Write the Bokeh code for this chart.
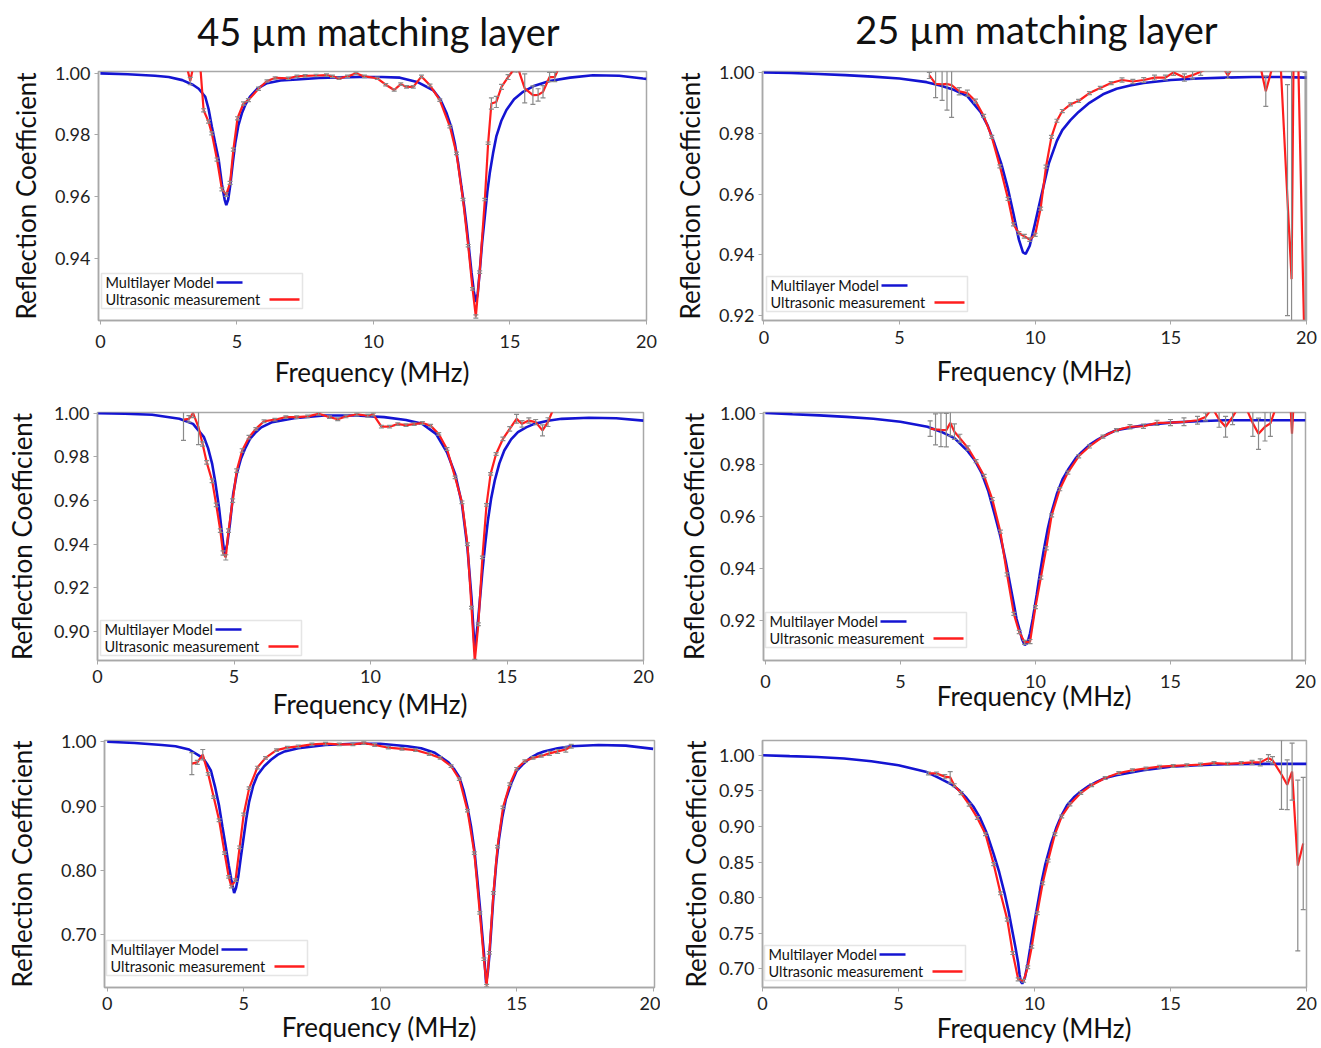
from bokeh.plotting import figure
from bokeh.models import (Range1d, FixedTicker, NumeralTickFormatter, BoxAnnotation,
                          Label, ColumnDataSource)
from bokeh.core.properties import value
from bokeh.layouts import column, row
from bokeh.embed import file_html
from bokeh.resources import INLINE

# ---------------- data ----------------
col_titles = ["45 µm matching layer", "25 µm matching layer"]
x_label = "Frequency (MHz)"
y_label = "Reflection Coefficient"
legend_labels = ["Multilayer Model", "Ultrasonic measurement"]
x_ticks = [0, 5, 10, 15, 20]

# Panel 1 : 45 um, top
p1_model_f = [0, 1, 2, 2.5, 3.0, 3.4, 3.6, 3.84, 3.96, 4.08, 4.2, 4.33, 4.45, 4.55, 4.61, 4.68,
              4.75, 4.85, 4.94, 5.05, 5.18, 5.32, 5.48, 5.75, 6.1, 6.6, 7.2, 8.0, 8.7, 9.5,
              10.3, 10.97, 11.6, 12.19, 12.45, 12.68, 12.85, 12.98, 13.1, 13.22, 13.32, 13.41,
              13.5, 13.59, 13.68, 13.75, 13.82, 13.89, 13.98, 14.08, 14.17, 14.26, 14.38, 14.5,
              14.68, 14.87, 15.15, 15.48, 15.9, 16.45, 17.2, 18.04, 19.0, 19.87, 20]
p1_model_r = [1.000, 0.9997, 0.9992, 0.9988, 0.9978, 0.9962, 0.9950, 0.9924, 0.9885, 0.9827,
              0.9775, 0.9720, 0.9640, 0.9590, 0.9572, 0.9590, 0.9633, 0.9710, 0.9774, 0.9830,
              0.9870, 0.9900, 0.9924, 0.9950, 0.9968, 0.9977, 0.9980, 0.9985, 0.9987, 0.9988,
              0.9988, 0.9986, 0.9972, 0.9945, 0.9915, 0.9870, 0.9825, 0.9773, 0.9710, 0.9633,
              0.9570, 0.9504, 0.9430, 0.9354, 0.9290, 0.9257, 0.9285, 0.9354, 0.9450, 0.9536,
              0.9615, 0.9676, 0.9740, 0.9795, 0.9845, 0.9881, 0.9916, 0.9940, 0.9960, 0.9975,
              0.9986, 0.9994, 0.9992, 0.9983, 0.9982]
p1_meas_f = [3.17, 3.29, 3.42, 3.66, 3.78, 3.96, 4.08, 4.27, 4.45, 4.61,
             4.75, 4.87, 5.02, 5.24, 5.42, 5.79, 6.1, 6.4, 6.88, 7.2,
             7.5, 7.9, 8.28, 8.5, 8.74, 9.05, 9.36, 9.67, 10.14, 10.45,
             10.76, 11.0, 11.21, 11.46, 11.76, 12.07, 12.43, 12.8, 13.04, 13.28,
             13.47, 13.63, 13.75, 13.89, 14.08, 14.2, 14.32, 14.5, 14.69, 14.93,
             15.17, 15.3, 15.54, 15.84, 16.03, 16.21, 16.45, 16.64, 16.8]
p1_meas_r = [1.002, 0.9975, 1.003, 1.002, 0.9880, 0.9843, 0.9805, 0.9720, 0.9623, 0.9606,
             0.9644, 0.9752, 0.9854, 0.9902, 0.9913, 0.9950, 0.9975, 0.9985, 0.9984, 0.9990,
             0.9992, 0.9993, 0.9994, 0.9990, 0.9984, 0.9990, 1.0000, 0.9990, 0.9984, 0.9963,
             0.9946, 0.9965, 0.9956, 0.9956, 0.9990, 0.9961, 0.9913, 0.9827, 0.9740, 0.9590,
             0.9440, 0.9300, 0.9210, 0.9354, 0.9590, 0.9773, 0.9902, 0.9907, 0.9956, 0.9988,
             1.0015, 1.0015, 0.9951, 0.9929, 0.9930, 0.9940, 0.9988, 0.9988, 1.0020]
p1_meas_err = [0.0005, 0.0012, 0.0005, 0.0005, 0.0005, 0.0005, 0.0005, 0.0005, 0.0005, 0.0006,
               0.0005, 0.0005, 0.0005, 0.0005, 0.0005, 0.0005, 0.0004, 0.0004, 0.0004, 0.0004,
               0.0004, 0.0004, 0.0004, 0.0004, 0.0004, 0.0004, 0.0004, 0.0004, 0.0004, 0.0004,
               0.0004, 0.0004, 0.0004, 0.0004, 0.0004, 0.0004, 0.0004, 0.0004, 0.0004, 0.0004,
               0.0004, 0.0004, 0.0005, 0.0004, 0.0004, 0.0004, 0.0018, 0.0018, 0.0008, 0.0008,
               0.0010, 0.0010, 0.0047, 0.0030, 0.0020, 0.0020, 0.0015, 0.0015, 0.0010]

# Panel 2 : 25 um, top
p2_model_f = [0, 1, 2, 3, 4, 5, 6, 6.5, 7, 7.5, 8, 8.25, 8.5, 8.75, 9.0, 9.2, 9.4, 9.55, 9.65,
              9.8, 10.0, 10.2, 10.5, 10.8, 11.0, 11.3, 11.6, 12.0, 12.5, 13, 13.5, 14, 15, 16,
              17, 18, 19, 20]
p2_model_r = [1.000, 0.9998, 0.9995, 0.9991, 0.9986, 0.9980, 0.9968, 0.9957, 0.9943, 0.9922,
              0.9868, 0.9825, 0.9766, 0.9700, 0.9616, 0.9535, 0.9450, 0.9408, 0.9403, 0.9430,
              0.9505, 0.9584, 0.9700, 0.9775, 0.9810, 0.9843, 0.9870, 0.9900, 0.9928, 0.9946,
              0.9957, 0.9965, 0.9975, 0.9980, 0.9983, 0.9985, 0.9985, 0.9983]
p2_meas_f = [6.1, 6.33, 6.57, 6.75, 6.92, 7.2, 7.5, 7.8, 8.1, 8.4,
             8.7, 9.0, 9.2, 9.4, 9.6, 9.8, 10.0, 10.2, 10.4, 10.6,
             10.8, 11.0, 11.3, 11.6, 12.0, 12.4, 12.8, 13.2, 13.6, 14.0,
             14.4, 14.8, 15.1, 15.5, 15.8, 16.1, 16.5, 16.9, 17.1, 17.3,
             18.3, 18.5, 18.75, 19.05, 19.3, 19.45, 19.52, 19.7, 19.95]
p2_meas_r = [0.9990, 0.9962, 0.9961, 0.9962, 0.9958, 0.9938, 0.9932, 0.9906, 0.9857, 0.9788,
             0.9691, 0.9584, 0.9500, 0.9471, 0.9461, 0.9450, 0.9466, 0.9552, 0.9690, 0.9788,
             0.9841, 0.9873, 0.9895, 0.9906, 0.9932, 0.9949, 0.9965, 0.9975, 0.9970, 0.9975,
             0.9983, 0.9983, 1.0000, 0.9983, 0.9991, 1.0002, 1.0020, 1.0020, 0.9990, 1.0020,
             1.0020, 0.9938, 1.0020, 1.0020, 0.9580, 0.9320, 1.0020, 1.0020, 0.9000]
p2_meas_err = [0.0010, 0.0045, 0.0053, 0.0086, 0.0106, 0.0012, 0.0010, 0.0006, 0.0005, 0.0005,
               0.0005, 0.0005, 0.0005, 0.0005, 0.0006, 0.0006, 0.0005, 0.0005, 0.0005, 0.0005,
               0.0005, 0.0005, 0.0005, 0.0005, 0.0005, 0.0005, 0.0005, 0.0007, 0.0007, 0.0008,
               0.0008, 0.0008, 0.0010, 0.0012, 0.0012, 0.0012, 0.0010, 0.0010, 0.0010, 0.0010,
               0.0010, 0.0050, 0.0010, 0.0010, 0.0380, 0.0700, 0.0010, 0.0010, 0.1000]

# Panel 3 : 45 um, middle
p3_model_f = [0, 1, 2, 3, 3.5, 3.9, 4.05, 4.2, 4.32, 4.45, 4.55, 4.65, 4.75, 4.85, 4.97, 5.1,
              5.25, 5.4, 5.6, 5.8, 6.0, 6.4, 7.2, 8.3, 9.5, 10.5, 11.3, 11.9, 12.4, 12.8, 13.1,
              13.35, 13.55, 13.7, 13.82, 13.95, 14.1, 14.2, 14.3, 14.42, 14.55, 14.72, 14.9,
              15.15, 15.4, 15.7, 16, 16.5, 17, 18, 19, 20]
p3_model_r = [1.000, 0.9997, 0.9993, 0.9974, 0.9951, 0.9890, 0.9840, 0.9768, 0.9680, 0.9569,
              0.9460, 0.9355, 0.9400, 0.9492, 0.9630, 0.9722, 0.9790, 0.9836, 0.9885, 0.9913,
              0.9935, 0.9959, 0.9977, 0.9989, 0.9989, 0.9982, 0.9969, 0.9951, 0.9905, 0.9821,
              0.9722, 0.9584, 0.9385, 0.9156, 0.8910, 0.9064, 0.9278, 0.9400, 0.9508, 0.9610,
              0.9691, 0.9770, 0.9829, 0.9880, 0.9913, 0.9935, 0.9951, 0.9965, 0.9974, 0.9979,
              0.9977, 0.9966]
p3_meas_f = [3.15, 3.35, 3.5, 3.7, 3.85, 4.0, 4.2, 4.35, 4.5, 4.6,
             4.7, 4.8, 4.95, 5.1, 5.3, 5.55, 5.8, 6.1, 6.5, 6.9,
             7.3, 7.7, 8.1, 8.5, 8.8, 9.1, 9.5, 9.9, 10.1, 10.4,
             10.7, 11.0, 11.3, 11.6, 11.9, 12.2, 12.5, 12.8, 13.1, 13.35,
             13.55, 13.7, 13.82, 13.95, 14.1, 14.25, 14.4, 14.6, 14.85, 15.1,
             15.35, 15.55, 15.8, 16.05, 16.3, 16.5, 16.7]
p3_meas_r = [0.9970, 0.9974, 1.0000, 0.9936, 0.9859, 0.9775, 0.9690, 0.9580, 0.9462, 0.9360,
             0.9340, 0.9462, 0.9600, 0.9737, 0.9829, 0.9890, 0.9928, 0.9963, 0.9970, 0.9982,
             0.9982, 0.9985, 0.9997, 0.9982, 0.9972, 0.9985, 0.9994, 0.9988, 0.9994, 0.9938,
             0.9938, 0.9950, 0.9945, 0.9950, 0.9955, 0.9943, 0.9905, 0.9836, 0.9706, 0.9592,
             0.9400, 0.9110, 0.8865, 0.9034, 0.9340, 0.9580, 0.9722, 0.9813, 0.9882, 0.9928,
             0.9974, 0.9951, 0.9966, 0.9959, 0.9921, 0.9959, 1.0020]
p3_meas_err = [0.0095, 0.0015, 0.0020, 0.0080, 0.0010, 0.0008, 0.0008, 0.0008, 0.0008, 0.0010,
               0.0012, 0.0008, 0.0008, 0.0008, 0.0008, 0.0008, 0.0006, 0.0006, 0.0006, 0.0006,
               0.0006, 0.0006, 0.0006, 0.0006, 0.0006, 0.0006, 0.0006, 0.0006, 0.0006, 0.0006,
               0.0006, 0.0006, 0.0006, 0.0006, 0.0006, 0.0006, 0.0006, 0.0006, 0.0006, 0.0006,
               0.0006, 0.0006, 0.0008, 0.0006, 0.0006, 0.0006, 0.0006, 0.0006, 0.0008, 0.0010,
               0.0020, 0.0015, 0.0012, 0.0012, 0.0025, 0.0020, 0.0010]

# Panel 4 : 25 um, middle
p4_model_f = [0, 1, 2, 3, 4, 5, 6, 6.5, 7, 7.5, 7.75, 8, 8.25, 8.5, 8.7, 8.9, 9.05, 9.2, 9.3,
              9.45, 9.5, 9.6, 9.7, 9.8, 9.9, 10.05, 10.15, 10.3, 10.45, 10.6, 10.8, 11, 11.2,
              11.5, 11.7, 12, 12.3, 12.7, 13, 14, 15, 16, 17, 18, 19, 20]
p4_model_r = [1.000, 0.9995, 0.9991, 0.9985, 0.9978, 0.9966, 0.9947, 0.9928, 0.9903, 0.9852,
              0.9818, 0.9770, 0.9700, 0.9605, 0.9525, 0.9428, 0.9345, 0.9263, 0.9205, 0.9150,
              0.9128, 0.9105, 0.9112, 0.9150, 0.9205, 0.9301, 0.9370, 0.9466, 0.9550, 0.9618,
              0.9690, 0.9744, 0.9780, 0.9827, 0.9848, 0.9877, 0.9897, 0.9920, 0.9934, 0.9953,
              0.9963, 0.9968, 0.9972, 0.9972, 0.9972, 0.9972]
p4_meas_f = [6.1, 6.3, 6.5, 6.7, 6.85, 7.0, 7.2, 7.5, 7.8, 8.1,
             8.4, 8.7, 8.95, 9.2, 9.4, 9.6, 9.8, 10.0, 10.2, 10.4,
             10.6, 10.9, 11.2, 11.6, 12.0, 12.5, 13.0, 13.5, 14.0, 14.5,
             15.0, 15.5, 16.0, 16.3, 16.55, 16.8, 17.04, 17.3, 17.5, 17.8,
             18.05, 18.26, 18.5, 18.7, 18.9, 19.45, 19.5, 19.55]
p4_meas_r = [0.9940, 0.9937, 0.9935, 0.9934, 0.9962, 0.9928, 0.9903, 0.9865, 0.9814, 0.9757,
             0.9668, 0.9542, 0.9377, 0.9225, 0.9155, 0.9115, 0.9118, 0.9251, 0.9365, 0.9478,
             0.9605, 0.9706, 0.9770, 0.9833, 0.9871, 0.9909, 0.9934, 0.9947, 0.9949, 0.9962,
             0.9963, 0.9966, 0.9972, 0.9985, 1.0020, 0.9975, 0.9947, 0.9985, 1.0020, 1.0020,
             0.9960, 0.9920, 0.9947, 0.9960, 1.0020, 1.0020, 0.9920, 1.0020]
p4_meas_err = [0.0030, 0.0060, 0.0065, 0.0065, 0.0050, 0.0030, 0.0015, 0.0008, 0.0006, 0.0006,
               0.0006, 0.0006, 0.0006, 0.0006, 0.0006, 0.0008, 0.0008, 0.0006, 0.0006, 0.0006,
               0.0006, 0.0006, 0.0006, 0.0006, 0.0006, 0.0006, 0.0006, 0.0008, 0.0008, 0.0010,
               0.0012, 0.0015, 0.0015, 0.0015, 0.0010, 0.0030, 0.0040, 0.0030, 0.0010, 0.0010,
               0.0050, 0.0060, 0.0055, 0.0050, 0.0010, 0.0010, 0.0900, 0.0010]

# Panel 5 : 45 um, bottom
p5_model_f = [0, 1, 2, 2.5, 3, 3.5, 3.65, 3.8, 3.95, 4.1, 4.22, 4.35, 4.45, 4.55, 4.65, 4.72,
              4.8, 4.9, 5.0, 5.1, 5.2, 5.35, 5.5, 5.75, 6.0, 6.25, 6.5, 7, 8, 9, 10, 11, 11.5,
              12, 12.5, 12.7, 12.9, 13.05, 13.2, 13.33, 13.45, 13.55, 13.65, 13.72, 13.8, 13.88,
              13.94, 14.0, 14.07, 14.15, 14.25, 14.35, 14.47, 14.6, 14.8, 15, 15.25, 15.5,
              15.75, 16, 16.5, 17, 18, 19, 20]
p5_model_r = [1.000, 0.998, 0.995, 0.993, 0.988, 0.975, 0.966, 0.955, 0.930, 0.900,
              0.868, 0.835, 0.808, 0.785, 0.765, 0.773, 0.790, 0.822, 0.852, 0.882,
              0.907, 0.932, 0.948, 0.962, 0.972, 0.980, 0.985, 0.990, 0.995, 0.997,
              0.997, 0.993, 0.990, 0.983, 0.968, 0.958, 0.945, 0.925, 0.898, 0.868,
              0.832, 0.790, 0.745, 0.710, 0.672, 0.625, 0.640, 0.667, 0.710, 0.760,
              0.810, 0.848, 0.882, 0.910, 0.935, 0.955, 0.966, 0.975, 0.981, 0.985,
              0.990, 0.993, 0.995, 0.994, 0.989]
p5_meas_f = [3.1, 3.3, 3.5, 3.7, 3.9, 4.1, 4.3, 4.45, 4.55, 4.7,
             4.85, 5.0, 5.2, 5.5, 5.8, 6.2, 6.6, 7.0, 7.5, 8.0,
             8.5, 9.0, 9.4, 9.8, 10.3, 10.8, 11.3, 11.8, 12.2, 12.6,
             12.9, 13.2, 13.45, 13.65, 13.8, 13.9, 14.0, 14.15, 14.3, 14.5,
             14.75, 15.0, 15.3, 15.6, 15.9, 16.2, 16.5, 16.8, 17.0]
p5_meas_r = [0.966, 0.968, 0.980, 0.950, 0.914, 0.878, 0.827, 0.790, 0.775, 0.785,
             0.836, 0.887, 0.928, 0.960, 0.975, 0.987, 0.991, 0.993, 0.996, 0.997,
             0.996, 0.996, 0.998, 0.995, 0.991, 0.989, 0.987, 0.981, 0.975, 0.962,
             0.942, 0.893, 0.827, 0.734, 0.662, 0.621, 0.672, 0.765, 0.837, 0.898,
             0.934, 0.958, 0.970, 0.975, 0.978, 0.982, 0.985, 0.988, 0.993]
p5_meas_err = [0.017, 0.003, 0.008, 0.002, 0.002, 0.002, 0.002, 0.002, 0.002, 0.002,
               0.002, 0.002, 0.002, 0.002, 0.002, 0.002, 0.002, 0.002, 0.002, 0.002,
               0.002, 0.002, 0.002, 0.002, 0.002, 0.002, 0.002, 0.002, 0.002, 0.002,
               0.002, 0.002, 0.002, 0.002, 0.002, 0.002, 0.002, 0.002, 0.002, 0.002,
               0.002, 0.002, 0.002, 0.002, 0.002, 0.003, 0.003, 0.004, 0.003]

# Panel 6 : 25 um, bottom
p6_model_f = [0, 1, 2, 3, 4, 5, 6, 6.5, 7, 7.25, 7.5, 7.75, 8, 8.25, 8.5, 8.7, 8.9, 9.05, 9.2,
              9.3, 9.4, 9.45, 9.5, 9.55, 9.65, 9.75, 9.85, 9.95, 10.1, 10.25, 10.4, 10.6, 10.8,
              11.0, 11.2, 11.45, 11.7, 12.0, 12.3, 12.6, 13, 14, 15, 16, 17, 18, 19, 20]
p6_model_r = [1.000, 0.9988, 0.9977, 0.9955, 0.9917, 0.986, 0.977, 0.968, 0.958, 0.950,
              0.940, 0.928, 0.912, 0.890, 0.861, 0.836, 0.806, 0.780, 0.750, 0.730,
              0.708, 0.692, 0.682, 0.679, 0.688, 0.707, 0.731, 0.755, 0.787, 0.820,
              0.847, 0.875, 0.898, 0.916, 0.930, 0.941, 0.949, 0.957, 0.963, 0.968,
              0.972, 0.979, 0.984, 0.986, 0.9875, 0.988, 0.988, 0.988]
p6_meas_f = [6.1, 6.4, 6.7, 6.9, 7.05, 7.3, 7.6, 7.9, 8.2, 8.5,
             8.75, 9.0, 9.2, 9.4, 9.6, 9.75, 9.9, 10.1, 10.3, 10.5,
             10.75, 11.0, 11.3, 11.7, 12.1, 12.6, 13.1, 13.6, 14.1, 14.6,
             15.1, 15.6, 16.1, 16.6, 17.1, 17.6, 18.0, 18.3, 18.6, 18.75,
             19.08, 19.29, 19.47, 19.68, 19.88]
p6_meas_r = [0.9745, 0.9745, 0.9700, 0.9690, 0.9580, 0.9468, 0.9306, 0.912, 0.889, 0.847,
             0.806, 0.769, 0.722, 0.685, 0.683, 0.702, 0.731, 0.778, 0.820, 0.852,
             0.889, 0.914, 0.931, 0.947, 0.958, 0.968, 0.975, 0.979, 0.9815, 0.984,
             0.985, 0.986, 0.987, 0.989, 0.988, 0.989, 0.990, 0.990, 0.996, 0.993,
             0.973, 0.9585, 0.977, 0.845, 0.876]
p6_meas_err = [0.002, 0.002, 0.003, 0.008, 0.002, 0.002, 0.002, 0.002, 0.002, 0.002,
               0.002, 0.002, 0.002, 0.002, 0.002, 0.002, 0.002, 0.002, 0.002, 0.002,
               0.002, 0.002, 0.002, 0.002, 0.002, 0.002, 0.002, 0.002, 0.002, 0.002,
               0.002, 0.002, 0.002, 0.002, 0.002, 0.002, 0.003, 0.005, 0.005, 0.005,
               0.049, 0.035, 0.040, 0.120, 0.093]

p1_y_ticks = [0.94, 0.96, 0.98, 1.00]
p2_y_ticks = [0.92, 0.94, 0.96, 0.98, 1.00]
p3_y_ticks = [0.90, 0.92, 0.94, 0.96, 0.98, 1.00]
p4_y_ticks = [0.92, 0.94, 0.96, 0.98, 1.00]
p5_y_ticks = [0.70, 0.80, 0.90, 1.00]
p6_y_ticks = [0.70, 0.75, 0.80, 0.85, 0.90, 0.95, 1.00]

# ---------------- styling / layout ----------------
FONT = "Lato"
BLUE = "#1414d2"
RED = "#ff1e1e"
GRAY = "#a8a8a8"
BAR = "#8a8a8a"
TITLE_H = 60
title_pos_x = [378, 1036]     # pixel centres of the two column titles
title_pos_y = [30, 28]

panels = [
    dict(f=p1_model_f, r=p1_model_r, mf=p1_meas_f, mr=p1_meas_r, me=p1_meas_err, yt=p1_y_ticks,
         w=660, h=330, l=98, ri=14, t=11, b=68, xr=(-0.07, 20.0), yr=(0.9197, 1.0006),
         yls=10, xts=10, xls=5, leg=(3, 12)),
    dict(f=p2_model_f, r=p2_model_r, mf=p2_meas_f, mr=p2_meas_r, me=p2_meas_err, yt=p2_y_ticks,
         w=661, h=330, l=102, ri=15, t=11, b=70, xr=(-0.05, 20.0), yr=(0.9184, 1.0003),
         yls=10, xts=6, xls=8, leg=(4, 9)),
    dict(f=p3_model_f, r=p3_model_r, mf=p3_meas_f, mr=p3_meas_r, me=p3_meas_err, yt=p3_y_ticks,
         w=660, h=332, l=97, ri=17, t=21, b=62, xr=(0.0, 20.0), yr=(0.8868, 1.0003),
         yls=13, xts=5, xls=2, leg=(3, 5)),
    dict(f=p4_model_f, r=p4_model_r, mf=p4_meas_f, mr=p4_meas_r, me=p4_meas_err, yt=p4_y_ticks,
         w=661, h=332, l=103, ri=16, t=22, b=58, xr=(-0.07, 20.0), yr=(0.9045, 1.0002),
         yls=7, xts=10, xls=-11, leg=(2, 13)),
    dict(f=p5_model_f, r=p5_model_r, mf=p5_meas_f, mr=p5_meas_r, me=p5_meas_err, yt=p5_y_ticks,
         w=660, h=326, l=104, ri=6, t=18, b=60, xr=(-0.1, 20.05), yr=(0.618, 1.002),
         yls=20, xts=5, xls=-2, leg=(2, 12)),
    dict(f=p6_model_f, r=p6_model_r, mf=p6_meas_f, mr=p6_meas_r, me=p6_meas_err, yt=p6_y_ticks,
         w=661, h=326, l=102, ri=15, t=15, b=61, xr=(0.0, 20.0), yr=(0.6736, 1.0208),
         yls=4, xts=5, xls=-1, leg=(2, 7)),
]


def make_panel(c):
    p = figure(width=c["w"], height=c["h"], output_backend="svg", toolbar_location=None,
               x_range=Range1d(*c["xr"]), y_range=Range1d(*c["yr"]),
               min_border_left=c["l"], min_border_right=c["ri"],
               min_border_top=c["t"], min_border_bottom=c["b"],
               background_fill_color="white", border_fill_color="white")
    p.grid.visible = False
    p.outline_line_color = GRAY
    p.outline_line_width = 1.5

    p.xaxis.ticker = FixedTicker(ticks=x_ticks)
    p.yaxis.ticker = FixedTicker(ticks=c["yt"])
    p.yaxis.formatter = NumeralTickFormatter(format="0.00")
    p.xaxis.axis_label = x_label
    p.yaxis.axis_label = y_label
    for ax in (p.xaxis[0], p.yaxis[0]):
        ax.axis_line_color = GRAY
        ax.axis_line_width = 1.5
        ax.major_tick_line_color = GRAY
        ax.major_tick_out = 4
        ax.major_tick_in = 0
        ax.minor_tick_line_color = None
        ax.major_label_text_font = FONT
        ax.major_label_text_font_size = "18px"
        ax.major_label_text_color = "#222222"
        ax.axis_label_text_font = FONT
        ax.axis_label_text_font_size = "26px"
        ax.axis_label_text_font_style = "normal"
        ax.axis_label_text_color = "#111111"
    p.yaxis[0].major_label_standoff = 4
    p.yaxis[0].axis_label_standoff = c["yls"]
    p.xaxis[0].major_label_standoff = c["xts"]
    p.xaxis[0].axis_label_standoff = c["xls"]

    # model curve
    p.line(c["f"], c["r"], line_color=BLUE, line_width=2.6)
    # measurement
    p.line(c["mf"], c["mr"], line_color=RED, line_width=2.2)
    lo = [v - e for v, e in zip(c["mr"], c["me"])]
    hi = [v + e for v, e in zip(c["mr"], c["me"])]
    src = ColumnDataSource(dict(f=c["mf"], lo=lo, hi=hi))
    p.segment(x0="f", y0="lo", x1="f", y1="hi", source=src, line_color=BAR, line_width=1.2)
    p.scatter(x="f", y="lo", source=src, marker="dash", size=5, line_color=BAR, line_width=1.2)
    p.scatter(x="f", y="hi", source=src, marker="dash", size=5, line_color=BAR, line_width=1.2)

    # hand-made legend (text first, line sample after it)
    lx, lb = c["leg"]
    bw, bh = 201, 35
    p.add_layout(BoxAnnotation(left=lx, right=lx + bw, bottom=lb, top=lb + bh,
                               left_units="screen", right_units="screen",
                               bottom_units="screen", top_units="screen",
                               fill_color="white", fill_alpha=1.0,
                               line_color=GRAY, line_width=1.5))
    rows_y = [lb + bh - 9, lb + 9]
    sample_x = [(lx + 115, lx + 141), (lx + 168, lx + 198)]
    colors = [BLUE, RED]
    for k in range(2):
        p.add_layout(Label(x=lx + 4, y=rows_y[k], x_units="screen", y_units="screen",
                           text=legend_labels[k], text_font=FONT, text_font_size="14.5px",
                           text_baseline="middle", text_align="left", text_color="#111111"))
        x0, x1 = sample_x[k]
        p.add_layout(BoxAnnotation(left=x0, right=x1, bottom=rows_y[k] - 1.2, top=rows_y[k] + 1.2,
                                   left_units="screen", right_units="screen",
                                   bottom_units="screen", top_units="screen",
                                   fill_color=colors[k], fill_alpha=1.0, line_color=None))
    return p


# strip with the two column titles
tp = figure(width=1321, height=TITLE_H, output_backend="svg", toolbar_location=None,
            x_range=Range1d(0, 1321), y_range=Range1d(TITLE_H, 0), min_border=0,
            x_axis_location=None, y_axis_location=None, outline_line_color=None,
            background_fill_color="white", border_fill_color="white")
tp.grid.visible = False
tp.text(x=title_pos_x, y=title_pos_y, text=col_titles, text_font=value(FONT),
        text_font_size="38px", text_align="center", text_baseline="middle",
        text_color="#111111")

figs = [make_panel(c) for c in panels]
layout = column(tp, row(figs[0], figs[1]), row(figs[2], figs[3]), row(figs[4], figs[5]))
open("out.html", "w").write(file_html(layout, INLINE))
